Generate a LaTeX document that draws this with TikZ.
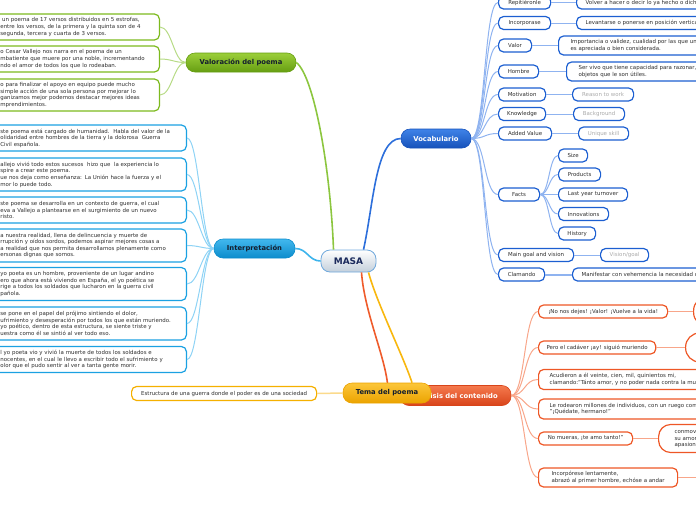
\documentclass[tikz,border=0pt]{standalone}
\usepackage{fontspec}
\setmainfont{DejaVu Sans}
\usepackage{tikz}
\definecolor{valgreen}{HTML}{7DBA1E}
\definecolor{valgreenlt}{HTML}{9CCF3A}
\definecolor{valgreendk}{HTML}{669E12}
\definecolor{intcyan}{HTML}{1BA1E2}
\definecolor{intcyanlt}{HTML}{42B8EE}
\definecolor{intcyandk}{HTML}{0C8CCC}
\definecolor{vocblue}{HTML}{1C5FD1}
\definecolor{vocbluelt}{HTML}{3F83E8}
\definecolor{vocbluedk}{HTML}{1752BA}
\definecolor{anared}{HTML}{EE5726}
\definecolor{anaredlt}{HTML}{F57A4E}
\definecolor{anareddk}{HTML}{D8441A}
\definecolor{temaor}{HTML}{F5B000}
\definecolor{temaorlt}{HTML}{FCC63A}
\definecolor{temaordk}{HTML}{EBA300}
\definecolor{leaftext}{HTML}{2E2E2E}
\definecolor{graytext}{HTML}{AAAAAA}
\definecolor{topictext}{HTML}{141E2E}
\definecolor{masaborder}{HTML}{6FA8DC}
\definecolor{masabot}{HTML}{C3CFDB}
\definecolor{masatext}{HTML}{1B2A5C}
\definecolor{glinkcol}{HTML}{B7DB86}
\definecolor{clinkcol}{HTML}{8ED3F5}
\definecolor{vlinkcol}{HTML}{8FB3F0}
\definecolor{alinkcol}{HTML}{F8A68A}
\definecolor{tlinkcol}{HTML}{FBDA8C}
\definecolor{gmaincol}{HTML}{8CC63F}
\definecolor{cmaincol}{HTML}{3DB4EC}
\definecolor{vmaincol}{HTML}{2D6FDB}
\definecolor{amaincol}{HTML}{EF5B2B}
\definecolor{tmaincol}{HTML}{F8B70E}
\tikzset{
  topic/.style={rounded corners=9pt, minimum height=19pt, inner sep=0pt, line width=0.6pt,
    font=\fontsize{6.8}{7.5}\selectfont\bfseries, text=topictext},
  masa/.style={topic, top color=white, bottom color=masabot, draw=masaborder, line width=0.8pt,
    minimum width=55pt, minimum height=22pt, font=\fontsize{9}{10}\selectfont\bfseries, text=masatext},
  leaf/.style={fill=white, rounded corners=5pt, line width=1.2pt, text=leaftext,
    font=\fontsize{5.45}{6.6}\selectfont, inner xsep=8pt, inner ysep=1pt, minimum height=13pt, align=left},
  gleaf/.style={leaf, draw=valgreen},
  cleaf/.style={leaf, draw=intcyan},
  vleaf/.style={leaf, draw=vocblue},
  aleaf/.style={leaf, draw=anared},
  tleaf/.style={leaf, draw=temaor},
  rlink/.style={to path={.. controls +(#1,0) and +(-#1,0) .. (\tikztotarget)}},
  rlink/.default=14,
  llink/.style={to path={.. controls +(-#1,0) and +(#1,0) .. (\tikztotarget)}},
  llink/.default=12,
  glink/.style={draw=glinkcol, line width=1pt},
  clink/.style={draw=clinkcol, line width=1pt},
  vlink/.style={draw=vlinkcol, line width=1pt},
  alink/.style={draw=alinkcol, line width=1pt},
  tlink/.style={draw=tlinkcol, line width=1.5pt},
  mainlink/.style={line width=1.6pt}
}

\begin{document}
\begin{tikzpicture}[x=1pt, y=-1pt]
    \path[use as bounding box] (0,0) rectangle (696,520);
    \clip (0,0) rectangle (696,520);

    \node[masa] (masa) at (348.5,261) {MASA};

    % Valoracion del poema
    \node[topic, top color=valgreenlt, bottom color=valgreendk, draw=valgreendk, minimum width=110pt] (val) at (241,62.5) {Valoración del poema};
    \node[gleaf, text width=151pt, minimum height=26pt, anchor=east] (val1) at (160,27)
        {\ un poema de 17 versos distribuidos en 5 estrofas,\\entre los versos, de la primera y la quinta son de 4\\segunda, tercera y cuarta de 3 versos.};
    \node[gleaf, text width=151pt, minimum height=26pt, anchor=east] (val2) at (160,59)
        {o Cesar Vallejo nos narra en el poema de un\\mbatiente que muere por una noble, incrementando\\ndo el amor de todos los que lo rodeaban.};
    \node[gleaf, text width=151pt, minimum height=32pt, anchor=east] (val3) at (160,95)
        {o para finalizar el apoyo en equipo puede mucho\\simple acción de una sola persona por mejorar lo\\ganizamos mejor podemos destacar mejores ideas\\mprendimientos.};
    \draw[glink] (val.west) edge[llink] (val1.east) edge[llink] (val2.east) edge[llink] (val3.east);
    \draw[mainlink, draw=gmaincol] ([xshift=-15pt]masa.north) .. controls +(-3,-80) and +(18,14) .. (val.east);

    % Interpretacion
    \node[topic, top color=intcyanlt, bottom color=intcyandk, draw=intcyandk, minimum width=81pt] (int) at (254.5,248.5) {Interpretación};
    \node[cleaf, text width=178pt, minimum height=26pt, anchor=east] (int1) at (187,138)
        {ste poema está cargado de humanidad.\ \ Habla del valor de la\\olidaridad entre hombres de la tierra y la dolorosa\ \ Guerra\\Civil española.};
    \node[cleaf, text width=178pt, minimum height=33pt, anchor=east] (int2) at (187,174.5)
        {allejo vivió todo estos sucesos\ \ hizo que\ \ la experiencia lo\\spire a crear este poema.\\ue nos deja como enseñanza: La Unión hace la fuerza y el\\mor lo puede todo.};
    \node[cleaf, text width=178pt, minimum height=26pt, anchor=east] (int3) at (187,210)
        {ste poema se desarrolla en un contexto de guerra, el cual\\eva a Vallejo a plantearse en el surgimiento de un nuevo\\risto.};
    \node[cleaf, text width=178pt, minimum height=33pt, anchor=east] (int4) at (187,245.5)
        {a nuestra realidad, llena de delincuencia y muerte de\\rrupción y oídos sordos, podemos aspirar mejores cosas a\\a realidad que nos permita desarrollamos plenamente como\\ersonas dignas que somos.};
    \node[cleaf, text width=178pt, minimum height=33pt, anchor=east] (int5) at (187,284)
        {yo poeta es un hombre, proveniente de un lugar andino\\ero que ahora está viviendo en España, el yo poética se\\rige a todos los soldados que lucharon en la guerra civil\\pañola.};
    \node[cleaf, text width=178pt, minimum height=33pt, anchor=east] (int6) at (187,323.5)
        {se pone en el papel del prójimo sintiendo el dolor,\\ufrimiento y desesperación por todos los que están muriendo.\\yo poético, dentro de esta estructura, se siente triste y\\uestra como él se sintió al ver todo eso.};
    \node[cleaf, text width=178pt, minimum height=26pt, anchor=east] (int7) at (187,359.5)
        {l yo poeta vio y vivió la muerte de todos los soldados e\\nocentes, en el cual le llevo a escribir todo el sufrimiento y\\olor que el pudo sentir al ver a tanta gente morir.};
    \draw[clink] (int.west) edge[llink] (int1.east) edge[llink] (int2.east) edge[llink] (int3.east)
        edge[llink] (int4.east) edge[llink] (int5.east) edge[llink] (int6.east) edge[llink] (int7.east);
    \draw[mainlink, draw=cmaincol] (masa.west) .. controls +(-12,0) and +(12,0) .. (int.east);

    % Vocabulario
    \node[topic, top color=vocbluelt, bottom color=vocbluedk, draw=vocbluedk, text=white, minimum width=70pt] (voc) at (436,138.5) {Vocabulario};
    \node[vleaf, minimum width=52pt, anchor=west] (rep) at (498,2.5) {Repitiéronle};
    \node[vleaf, minimum width=52pt, anchor=west] (inc) at (498,23) {Incorporase};
    \node[vleaf, minimum width=33pt, anchor=west] (valor) at (498,45.5) {Valor};
    \node[vleaf, minimum width=40pt, anchor=west] (hom) at (498,71.5) {Hombre};
    \node[vleaf, minimum width=47pt, anchor=west] (mot) at (498,94.5) {Motivation};
    \node[vleaf, minimum width=47pt, anchor=west] (know) at (498,114) {Knowledge};
    \node[vleaf, minimum width=53pt, anchor=west] (added) at (498,133.5) {Added Value};
    \node[vleaf, minimum width=41pt, anchor=west] (facts) at (498,194.5) {Facts};
    \node[vleaf, minimum width=75pt, anchor=west] (goal) at (498,255) {Main goal and vision};
    \node[vleaf, minimum width=46pt, anchor=west] (clam) at (498,274.5) {Clamando};

    \node[vleaf, anchor=west, inner xsep=9pt] (repd) at (576,2.5) {Volver a hacer o decir lo ya hecho o dicho.};
    \node[vleaf, anchor=west, inner xsep=9pt] (incd) at (576,23) {Levantarse o ponerse en posición vertical.};
    \node[vleaf, anchor=west, inner xsep=12pt, minimum height=19pt] (valord) at (558,45.5)
        {Importancia o validez, cualidad por las que una cosa\\es apreciada o bien considerada.};
    \node[vleaf, anchor=west, inner xsep=12pt, minimum height=19pt] (homd) at (566,71.5)
        {Ser vivo que tiene capacidad para razonar, hablar y fabricar\\objetos que le son útiles.};
    \node[vleaf, text=graytext, minimum width=61pt, anchor=west] (motd) at (572,94.5) {Reason to work};
    \node[vleaf, text=graytext, minimum width=51pt, anchor=west] (knowd) at (573,114) {Background};
    \node[vleaf, text=graytext, minimum width=50pt, anchor=west] (addedd) at (578,133.5) {Unique skill};
    \node[vleaf, minimum width=29pt, anchor=west] (size) at (558,155.5) {Size};
    \node[vleaf, minimum width=42pt, anchor=west] (prod) at (558,174.5) {Products};
    \node[vleaf, minimum width=69pt, anchor=west] (turn) at (558,194.5) {Last year turnover};
    \node[vleaf, minimum width=50pt, anchor=west] (innov) at (558,214) {Innovations};
    \node[vleaf, minimum width=37pt, anchor=west] (hist) at (558,233.5) {History};
    \node[vleaf, text=graytext, minimum width=48pt, anchor=west] (goald) at (600,255) {Vision/goal};
    \node[vleaf, anchor=west, inner xsep=9pt] (clamd) at (572,274.5) {Manifestar con vehemencia la necesidad o conveniencia de algo.};

    \draw[vlink] (voc.east) edge[rlink] (rep.west) edge[rlink] (inc.west) edge[rlink] (valor.west)
        edge[rlink] (hom.west) edge[rlink] (mot.west) edge[rlink] (know.west) edge[rlink] (added.west)
        edge[rlink] (facts.west) edge[rlink] (goal.west) edge[rlink] (clam.west);
    \draw[vlink] (facts.east) edge[rlink=9] (size.west) edge[rlink=9] (prod.west) edge[rlink=9] (turn.west)
        edge[rlink=9] (innov.west) edge[rlink=9] (hist.west);
    \draw[vlink] (rep.east) -- (repd.west) (inc.east) -- (incd.west) (valor.east) -- (valord.west)
        (hom.east) -- (homd.west) (mot.east) -- (motd.west) (know.east) -- (knowd.west)
        (added.east) -- (addedd.west) (goal.east) -- (goald.west);
    \draw[vlink, line width=2pt] (clam.east) -- (clamd.west);
    \draw[mainlink, draw=vmaincol] ([xshift=15pt]masa.north) .. controls +(10,-45) and +(-25,0) .. (voc.west);

    % Analisis del contenido
    \node[topic, top color=anaredlt, bottom color=anareddk, draw=anareddk, text=white, minimum width=111pt, minimum height=20pt] (ana) at (455.5,395.5) {Análisis del contenido};
    \draw[mainlink, draw=amaincol] ([xshift=13pt]masa.south) .. controls +(3,40) and +(-3,-30) .. ([xshift=-12pt]ana.north west);
    \node[aleaf, minimum width=129pt, anchor=west] (ana1) at (538,311.5) {¡No nos dejes! ¡Valor! ¡Vuelve a la vida!};
    \node[aleaf, minimum width=110pt, anchor=west] (ana2) at (538,347.5) {Pero el cadáver ¡ay! siguió muriendo};
    \node[aleaf, minimum height=20pt, anchor=west, inner xsep=11pt] (ana3) at (538,379.5)
        {Acudieron a él veinte, cien, mil, quinientos mi,\\clamando:"Tánto amor, y no poder nada contra la muerte!"};
    \node[aleaf, minimum height=20pt, anchor=west, inner xsep=11pt] (ana4) at (538,409)
        {Le rodearon millones de individuos, con un ruego común:\\"¡Quédate, hermano!"};
    \node[aleaf, minimum width=94pt, anchor=west] (ana5) at (538,438.5) {No mueras, ¡te amo tanto!"};
    \node[aleaf, minimum width=139pt, minimum height=19pt, anchor=west] (ana6) at (538,477.5)
        {Incorpórese lentamente,\\abrazó al primer hombre, echóse a andar};
    \node[aleaf, minimum width=40pt, minimum height=30pt, rounded corners=14pt, anchor=west] (ana1r) at (693,311.5) {};
    \node[aleaf, minimum width=40pt, minimum height=29pt, rounded corners=14pt, anchor=west] (ana2r) at (685,347.5) {};
    \node[aleaf, minimum height=28pt, rounded corners=12pt, anchor=west, inner xsep=16pt] (ana5r) at (658,438.5)
        {conmovidos\\su amor por\\apasionado};
    \coordinate (ana6r) at (700,477.5);
    \draw[alink] (ana.east) edge[rlink] (ana1.west) edge[rlink] (ana2.west) edge[rlink] (ana3.west)
        edge[rlink] (ana4.west) edge[rlink] (ana5.west) edge[rlink] (ana6.west);
    \draw[alink] (ana1.east) -- (ana1r.west) (ana2.east) -- (ana2r.west) (ana5.east) -- (ana5r.west) (ana6.east) -- (ana6r);

    % Tema del poema
    \node[topic, top color=temaorlt, bottom color=temaordk, draw=temaordk, minimum width=88pt, minimum height=20pt] (tema) at (387,393) {Tema del poema};
    \node[tleaf, minimum width=185pt, minimum height=14pt, anchor=west] (tema1) at (131,393.5) {Estructura de una guerra donde el poder es de una sociedad};
    \draw[tlink] (tema.west) -- (tema1.east);
    \draw[mainlink, draw=tmaincol] ([xshift=20pt]masa.south) .. controls +(8,30) and +(-8,-25) .. ([xshift=25pt]tema.north);
\end{tikzpicture}
\end{document}
